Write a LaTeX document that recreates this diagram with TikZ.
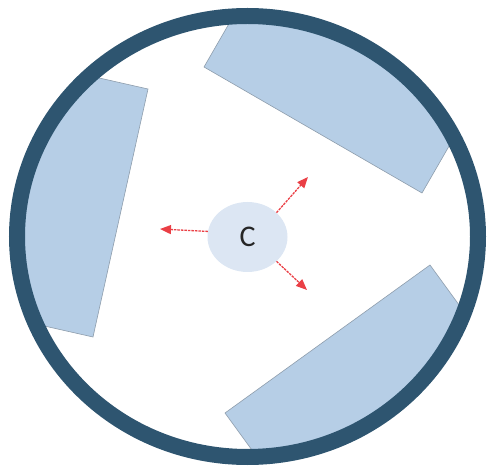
\documentclass[tikz,border=0pt]{standalone}
\usepackage{fontspec}
\setmainfont{Carlito}
\usetikzlibrary{arrows.meta,shapes.geometric}
\definecolor{ringblue}{HTML}{2E5570}
\definecolor{bladefill}{HTML}{B6CEE6}
\definecolor{bladeline}{HTML}{8E9DAC}
\definecolor{corefill}{HTML}{DCE6F3}
\definecolor{pushred}{HTML}{EA3F45}

\begin{document}
\begin{tikzpicture}[
  x=1pt,y=-1pt,
  ring/.style={draw=ringblue,line width=16pt},
  blade/.style={fill=bladefill,draw=bladeline,line width=0.6pt},
  core/.style={ellipse,fill=corefill,minimum width=80pt,minimum height=70pt,
               inner sep=0pt,font=\fontsize{30}{36}\selectfont,text=black!85},
  arr/.style={-{Triangle[length=11pt,width=9pt]},draw=pushred,
              line width=1.3pt,dash pattern=on 2.5pt off 1pt}
]
\useasboundingbox (0,0) rectangle (490,470);

% --- blades, cut by the drum
\begin{scope}
  \clip (247.5,236.5) ellipse [x radius=238,y radius=228];
  \draw[blade] (204,67) -- (422,193) -- (497,63) -- (279,-63) -- cycle;
  \draw[blade] (148,89) -- (93,337) -- (-53,304) -- (2,56) -- cycle;
  \draw[blade] (430,265) -- (225,413) -- (313,534) -- (518,386) -- cycle;
\end{scope}

% --- drum
\draw[ring] (247.5,236.5) ellipse [x radius=230.5,y radius=220.5];

% --- core and push arrows
\node[core] (c) at (247.5,237) {C};
\coordinate (ne) at (308,177);
\coordinate (w)  at (160,229);
\coordinate (se) at (307,290);

\draw[arr] (c.40)  -- (ne);
\draw[arr] (c.172) -- (w);
\draw[arr] (c.-40) -- (se);
\end{tikzpicture}
\end{document}
